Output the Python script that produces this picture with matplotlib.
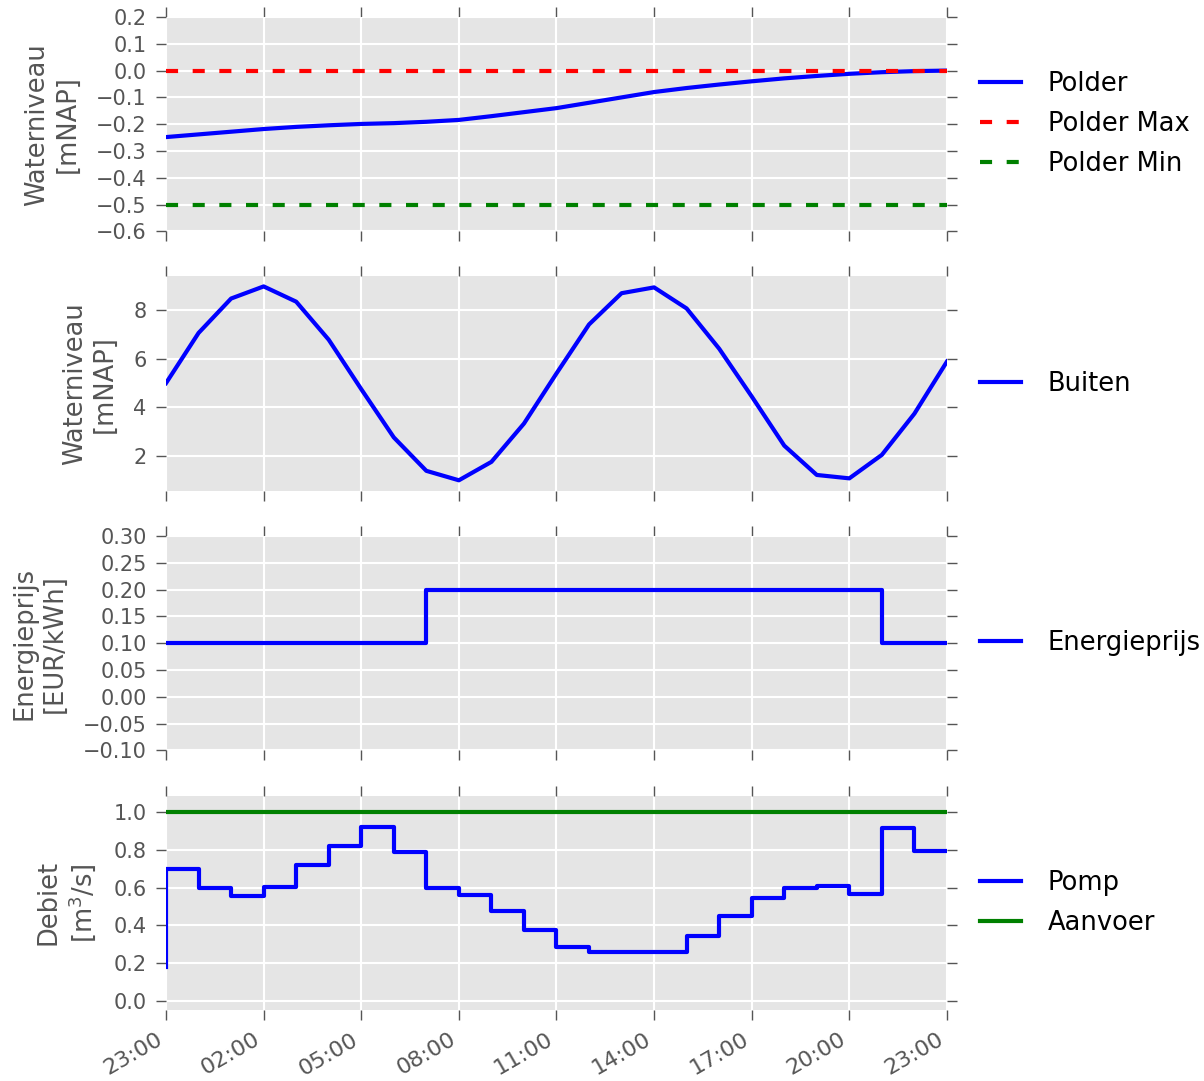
"""
Polder pumping overview: water levels, energy price and flow over one day.
"""
import pandas as pd
import matplotlib
matplotlib.use("Agg")
import matplotlib.pyplot as plt
import matplotlib.dates as mdates
from matplotlib.ticker import FuncFormatter

# hourly timestamps, 23:00 to 23:00 next day
times = pd.date_range("2016-01-01 23:00", periods=25, freq="h")

polder = [-0.248, -0.238, -0.228, -0.218, -0.210, -0.204, -0.199, -0.196, -0.191,
          -0.184, -0.170, -0.155, -0.140, -0.120, -0.100, -0.080, -0.065, -0.052,
          -0.040, -0.029, -0.020, -0.012, -0.006, -0.002, 0.000]
polder_max = 0.0
polder_min = -0.5

buiten = [5.0, 7.07, 8.49, 8.99, 8.36, 6.79, 4.75, 2.76, 1.38, 0.99, 1.75, 3.33,
          5.4, 7.42, 8.71, 8.95, 8.08, 6.42, 4.45, 2.42, 1.21, 1.07, 2.04, 3.74, 5.89]

energieprijs = [0.1] * 8 + [0.2] * 14 + [0.1] * 3

pomp = [0.18, 0.70, 0.60, 0.555, 0.603, 0.72, 0.82, 0.92, 0.79, 0.60, 0.56, 0.475,
        0.375, 0.286, 0.259, 0.259, 0.259, 0.342, 0.452, 0.546, 0.599, 0.608,
        0.569, 0.918, 0.794]
aanvoer = 1.0

GREY = "#555555"
LW = 3
DASH = (2.9, 3.5)


def fmt(decimals):
    # tick labels with a real minus sign
    def f(v, pos):
        s = "%.*f" % (decimals, v)
        if float(s) == 0:
            s = s.lstrip("-")
        return s.replace("-", "\u2212")
    return FuncFormatter(f)


fig, axes = plt.subplots(4, 1, sharex=True, figsize=(12.04, 10.81), dpi=100)
fig.subplots_adjust(left=0.1379, right=0.7865, top=0.9843, bottom=0.0657, hspace=0.21)

ax1, ax2, ax3, ax4 = axes

ax1.plot(times, polder, color="b", lw=LW, label="Polder")
ax1.plot(times, [polder_max] * len(times), color="r", lw=LW, dashes=DASH, label="Polder Max")
ax1.plot(times, [polder_min] * len(times), color="g", lw=LW, dashes=DASH, label="Polder Min")
ax1.set_ylim(-0.6, 0.2)
ax1.set_yticks([-0.6, -0.5, -0.4, -0.3, -0.2, -0.1, 0.0, 0.1, 0.2])
ax1.yaxis.set_major_formatter(fmt(1))
ax1.set_ylabel("Waterniveau\n[mNAP]")

ax2.plot(times, buiten, color="b", lw=LW, label="Buiten")
ax2.set_ylim(0.55, 9.4)
ax2.set_yticks([2, 4, 6, 8])
ax2.yaxis.set_major_formatter(fmt(0))
ax2.set_ylabel("Waterniveau\n[mNAP]")

ax3.step(times, energieprijs, where="post", color="b", lw=LW, label="Energieprijs")
ax3.set_ylim(-0.1, 0.3)
ax3.set_yticks([-0.10, -0.05, 0.0, 0.05, 0.10, 0.15, 0.20, 0.25, 0.30])
ax3.yaxis.set_major_formatter(fmt(2))
ax3.set_ylabel("Energieprijs\n[EUR/kWh]")

ax4.step(times, pomp, where="pre", color="b", lw=LW, label="Pomp")
ax4.plot(times, [aanvoer] * len(times), color="g", lw=LW, label="Aanvoer")
ax4.set_ylim(-0.05, 1.09)
ax4.set_yticks([0.0, 0.2, 0.4, 0.6, 0.8, 1.0])
ax4.yaxis.set_major_formatter(fmt(1))
ax4.set_ylabel("Debiet\n[m$^3$/s]")

for ax in axes:
    ax.set_facecolor("#E5E5E5")
    ax.grid(True, color="white", lw=1.5)
    ax.set_axisbelow(True)
    for s in ax.spines.values():
        s.set_visible(False)
    ax.tick_params(direction="out", length=7, width=1, color=GREY, labelcolor=GREY,
                   labelsize=15, top=True, right=True, pad=7)
    ax.yaxis.label.set_color(GREY)
    ax.yaxis.label.set_fontsize(18.5)
    ax.yaxis.labelpad = 11
    ax.legend(loc="center left", bbox_to_anchor=(1.029, 0.5), frameon=False,
              fontsize=18.5, handlelength=1.6, handletextpad=1.05, borderaxespad=0,
              labelspacing=0.55)

ax4.set_xlim(times[0], times[-1])
ax4.xaxis.set_major_locator(mdates.HourLocator(byhour=[23, 2, 5, 8, 11, 14, 17, 20]))
ax4.xaxis.set_major_formatter(mdates.DateFormatter("%H:%M"))
for lbl in ax4.get_xticklabels():
    lbl.set_rotation(30)
    lbl.set_ha("right")
    lbl.set_fontsize(16)

fig.savefig("out.png", dpi=100)
